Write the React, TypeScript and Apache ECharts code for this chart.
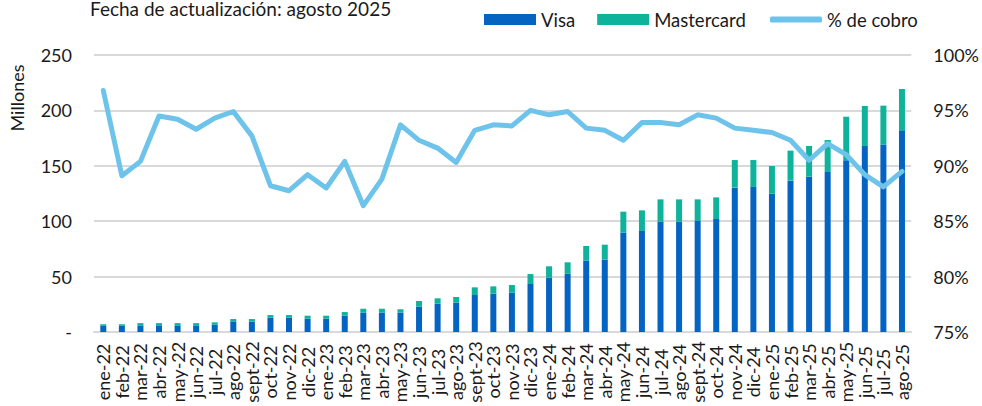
import React, { useEffect, useRef } from "react";
import * as echarts from "echarts";

const categories = [
  "ene-22", "feb-22", "mar-22", "abr-22", "may-22", "jun-22", "jul-22", "ago-22", "sept-22", "oct-22", "nov-22", "dic-22",
  "ene-23", "feb-23", "mar-23", "abr-23", "may-23", "jun-23", "jul-23", "ago-23", "sept-23", "oct-23", "nov-23", "dic-23",
  "ene-24", "feb-24", "mar-24", "abr-24", "may-24", "jun-24", "jul-24", "ago-24", "sept-24", "oct-24", "nov-24", "dic-24",
  "ene-25", "feb-25", "mar-25", "abr-25", "may-25", "jun-25", "jul-25", "ago-25",
];

const visa = [
  5.5, 5.5, 6, 6, 6, 6, 6.5, 9.6, 9.4, 12.9, 12.9, 12,
  12, 14.7, 17.4, 17.4, 17.4, 22.9, 25.6, 26.5, 33.4, 34.6, 35.5, 43.3,
  49, 52.6, 64.4, 65.3, 89.6, 91.2, 99.6, 99.6, 100.2, 102, 130.3, 130.9,
  124.8, 136.6, 140.2, 144.4, 155, 167.9, 169, 182,
];

const mastercard = [
  1.5, 1.5, 2, 2, 2, 2, 2.2, 2.1, 2.3, 2.4, 2.4, 2.7,
  2.7, 3.3, 3.6, 3.6, 3.1, 5.1, 4.8, 5.1, 6.9, 6.6, 6.9, 9.0,
  10.3, 10.3, 13.2, 13.5, 19.0, 18.6, 20.1, 20.1, 19.5, 19.5, 24.9, 24.3,
  25.0, 27.1, 27.7, 28.9, 39.3, 36.1, 35.3, 37.3,
];

const cobro = [
  96.8, 89.1, 90.4, 94.5, 94.2, 93.3, 94.3, 94.9, 92.7, 88.2, 87.75, 89.2,
  88.0, 90.4, 86.4, 88.8, 93.7, 92.3, 91.6, 90.3, 93.2, 93.7, 93.6, 95.0,
  94.6, 94.9, 93.4, 93.2, 92.3, 93.9, 93.9, 93.7, 94.6, 94.3, 93.4, 93.2,
  93.0, 92.3, 90.5, 92.0, 91.0, 89.2, 88.1, 89.5,
];

const leftTicks = { min: 0, max: 250, interval: 50 };
const rightTicks = { min: 75, max: 100, interval: 5 };

const FONT = "Lato";
const TXT = "#1a1a1a";

export default function App() {
  const ref = useRef<HTMLDivElement>(null);

  useEffect(() => {
    document.body.style.margin = "0";
    if (!ref.current) return;
    const chart = echarts.init(ref.current, undefined, { renderer: "svg" });
    chart.setOption({
      animation: false,
      textStyle: { fontFamily: FONT },
      title: {
        text: "Fecha de actualización: agosto 2025",
        left: 85,
        top: -6,
        textStyle: { fontFamily: FONT, fontSize: 19, fontWeight: "normal", color: TXT },
      },
      legend: [
        {
          data: ["Visa", "Mastercard"],
          left: 479,
          top: 5,
          itemWidth: 52,
          itemHeight: 11,
          itemGap: 22,
          icon: "rect",
          textStyle: { fontFamily: FONT, fontSize: 18.5, color: TXT },
        },
        {
          data: ["% de cobro"],
          left: 765,
          top: 5,
          itemWidth: 52,
          itemHeight: 6,
          icon: "roundRect",
          textStyle: { fontFamily: FONT, fontSize: 18.5, color: TXT },
        },
      ],
      graphic: [
        {
          type: "text",
          x: 17,
          y: 98,
          rotation: Math.PI / 2,
          style: {
            text: "Millones",
            fontFamily: FONT,
            fontSize: 18,
            fill: TXT,
            align: "center",
            verticalAlign: "middle",
          },
        },
      ],
      grid: { left: 94, right: 66, top: 55, bottom: 74, containLabel: false },
      xAxis: {
        type: "category",
        data: categories,
        axisTick: { show: false },
        axisLine: { lineStyle: { color: "#d9d9d9", width: 2 } },
        axisLabel: {
          interval: 0,
          rotate: 90,
          margin: 40,
          align: "center",
          verticalAlign: "middle",
          fontFamily: FONT,
          fontSize: 18,
          color: TXT,
        },
      },
      yAxis: [
        {
          type: "value",
          min: leftTicks.min,
          max: leftTicks.max,
          interval: leftTicks.interval,
          axisLine: { show: false },
          axisTick: { show: false },
          splitLine: { lineStyle: { color: "#d9d9d9", width: 2 } },
          axisLabel: {
            margin: 22,
            fontFamily: FONT,
            fontSize: 18,
            color: TXT,
            formatter: (v: number) => (v === 0 ? "-" : String(v)),
          },
        },
        {
          type: "value",
          min: rightTicks.min,
          max: rightTicks.max,
          interval: rightTicks.interval,
          axisLine: { show: false },
          axisTick: { show: false },
          splitLine: { show: false },
          axisLabel: {
            margin: 22,
            fontFamily: FONT,
            fontSize: 18,
            color: TXT,
            formatter: (v: number) => `${v}%`,
          },
        },
      ],
      series: [
        {
          name: "Visa",
          type: "bar",
          stack: "total",
          data: visa,
          barWidth: 6,
          itemStyle: { color: "#0563C1" },
        },
        {
          name: "Mastercard",
          type: "bar",
          stack: "total",
          data: mastercard,
          barWidth: 6,
          itemStyle: { color: "#0FB39B" },
        },
        {
          name: "% de cobro",
          type: "line",
          yAxisIndex: 1,
          data: cobro,
          symbol: "none",
          z: 5,
          itemStyle: { color: "#6EC3EA" },
          lineStyle: { color: "#6EC3EA", width: 5, join: "round", cap: "round" },
        },
      ],
    });
    return () => chart.dispose();
  }, []);

  return <div ref={ref} style={{ width: 982, height: 406 }} />;
}
